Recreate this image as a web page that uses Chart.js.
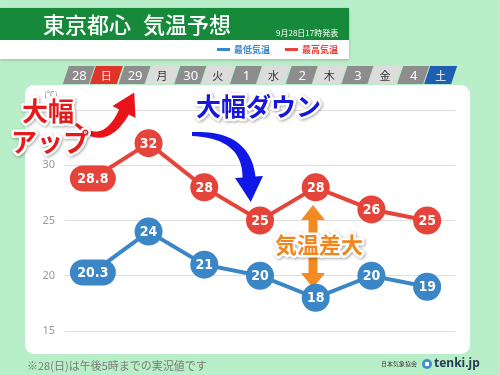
<!DOCTYPE html>
<html>
<head>
<meta charset="utf-8">
<script src="https://cdn.jsdelivr.net/npm/chart.js@4/dist/chart.umd.min.js"></script>
<style>
  html, body { margin: 0; padding: 0; background: #b8eec8; }
  canvas { display: block; }
</style>
</head>
<body>
<canvas id="tempChart" width="500" height="375"></canvas>
<script>
'use strict';

// 9月28日17時発表 東京都心
const dates = ['28', '29', '30', '1', '2', '3', '4'];
const weekdays = ['日', '月', '火', '水', '木', '金', '土'];
const highTemps = [28.8, 32, 28, 25, 28, 26, 25];
const lowTemps = [20.3, 24, 21, 20, 18, 20, 19];
const yTickValues = [15, 20, 25, 30, 35];

const RED = '#e4443a';
const BLUE = '#3a86c6';
const JP = '"Noto Sans CJK JP", sans-serif';
const NUM = '"DejaVu Sans Condensed", "Liberation Sans Narrow", sans-serif';

function roundRect(ctx, x, y, w, h, r) {
  ctx.beginPath();
  ctx.moveTo(x + r, y);
  ctx.arcTo(x + w, y, x + w, y + h, r);
  ctx.arcTo(x + w, y + h, x, y + h, r);
  ctx.arcTo(x, y + h, x, y, r);
  ctx.arcTo(x, y, x + w, y, r);
  ctx.closePath();
}

function outlinedText(ctx, text, x, y, font, color, outline) {
  ctx.save();
  ctx.font = font;
  ctx.textAlign = 'left';
  ctx.textBaseline = 'middle';
  ctx.lineJoin = 'round';
  ctx.shadowColor = 'rgba(0,0,0,0.35)';
  ctx.shadowBlur = 3;
  ctx.shadowOffsetX = 1;
  ctx.shadowOffsetY = 1;
  ctx.strokeStyle = '#fff';
  ctx.lineWidth = outline;
  ctx.strokeText(text, x, y);
  ctx.shadowColor = 'transparent';
  ctx.fillStyle = color;
  ctx.fillText(text, x, y);
  ctx.restore();
}

// curved, tapering arrow along a quadratic curve
function curvedArrow(ctx, p0, c, p1, w0, w1, headL, headW, color) {
  const left = [], right = [];
  const n = 24;
  for (let i = 0; i <= n; i++) {
    const t = i / n;
    const x = (1 - t) * (1 - t) * p0[0] + 2 * (1 - t) * t * c[0] + t * t * p1[0];
    const y = (1 - t) * (1 - t) * p0[1] + 2 * (1 - t) * t * c[1] + t * t * p1[1];
    let dx = 2 * (1 - t) * (c[0] - p0[0]) + 2 * t * (p1[0] - c[0]);
    let dy = 2 * (1 - t) * (c[1] - p0[1]) + 2 * t * (p1[1] - c[1]);
    const len = Math.hypot(dx, dy);
    dx /= len; dy /= len;
    const w = (w0 + (w1 - w0) * t) / 2;
    left.push([x - dy * w, y + dx * w]);
    right.push([x + dy * w, y - dx * w]);
  }
  let dx = p1[0] - c[0], dy = p1[1] - c[1];
  const len = Math.hypot(dx, dy);
  dx /= len; dy /= len;
  ctx.save();
  ctx.fillStyle = color;
  ctx.beginPath();
  ctx.moveTo(left[0][0], left[0][1]);
  left.forEach(p => ctx.lineTo(p[0], p[1]));
  ctx.lineTo(p1[0] - dy * headW / 2, p1[1] + dx * headW / 2);
  ctx.lineTo(p1[0] + dx * headL, p1[1] + dy * headL);
  ctx.lineTo(p1[0] + dy * headW / 2, p1[1] - dx * headW / 2);
  for (let i = right.length - 1; i >= 0; i--) ctx.lineTo(right[i][0], right[i][1]);
  ctx.closePath();
  ctx.fill();
  ctx.restore();
}

function doubleArrow(ctx, x, yTop, yBot, shaftW, headL, headW, color) {
  ctx.save();
  ctx.fillStyle = color;
  ctx.beginPath();
  ctx.moveTo(x, yTop);
  ctx.lineTo(x + headW / 2, yTop + headL);
  ctx.lineTo(x + shaftW / 2, yTop + headL);
  ctx.lineTo(x + shaftW / 2, yBot - headL);
  ctx.lineTo(x + headW / 2, yBot - headL);
  ctx.lineTo(x, yBot);
  ctx.lineTo(x - headW / 2, yBot - headL);
  ctx.lineTo(x - shaftW / 2, yBot - headL);
  ctx.lineTo(x - shaftW / 2, yTop + headL);
  ctx.lineTo(x - headW / 2, yTop + headL);
  ctx.closePath();
  ctx.fill();
  ctx.restore();
}

const backdrop = {
  id: 'backdrop',
  beforeDraw(chart) {
    const ctx = chart.ctx;
    const xs = chart.scales.x;
    ctx.save();
    ctx.fillStyle = '#b8eec8';
    ctx.fillRect(0, 0, chart.width, chart.height);

    // header
    ctx.shadowColor = 'rgba(0,0,0,0.2)';
    ctx.shadowBlur = 3;
    ctx.shadowOffsetY = 1;
    ctx.fillStyle = '#fff';
    ctx.fillRect(0, 8, 349, 51);
    ctx.shadowColor = 'transparent';
    ctx.fillStyle = '#17893a';
    ctx.fillRect(0, 8, 349, 32);
    ctx.fillStyle = '#fff';
    ctx.font = '500 22px ' + JP;
    ctx.textBaseline = 'middle';
    ctx.fillText('東京都心', 43, 25);
    ctx.fillText('気温予想', 143, 25);
    ctx.font = '8px ' + JP;
    ctx.fillText('9月28日17時発表', 276, 33);

    // legend
    ctx.font = 'bold 9px ' + JP;
    ctx.fillStyle = BLUE;
    ctx.fillRect(217, 48, 13, 3);
    ctx.fillText('最低気温', 234, 49.5);
    ctx.fillStyle = RED;
    ctx.fillRect(285, 48, 13, 3);
    ctx.fillText('最高気温', 302, 49.5);

    // white panel
    ctx.fillStyle = '#fff';
    roundRect(ctx, 25, 85, 445, 269, 9);
    ctx.fill();

    // date strip aligned to the category scale
    const top = 66, h = 18, sk = 3;
    dates.forEach((d, i) => {
      const cx = xs.getPixelForValue(i);
      const day = weekdays[i];
      let dayBg = '#dcdcdc', dayFg = '#333';
      if (day === '日') { dayBg = '#e0342a'; dayFg = '#fff'; }
      if (day === '土') { dayBg = '#1f5fb2'; dayFg = '#fff'; }
      ctx.fillStyle = '#8d8d8d';
      ctx.beginPath();
      ctx.moveTo(cx - 27 + sk, top);
      ctx.lineTo(cx + sk - 1, top);
      ctx.lineTo(cx - sk - 1, top + h);
      ctx.lineTo(cx - 27 - sk, top + h);
      ctx.closePath();
      ctx.fill();
      ctx.fillStyle = dayBg;
      ctx.beginPath();
      ctx.moveTo(cx + sk, top);
      ctx.lineTo(cx + 27 + sk, top);
      ctx.lineTo(cx + 27 - sk, top + h);
      ctx.lineTo(cx - sk, top + h);
      ctx.closePath();
      ctx.fill();
      ctx.textAlign = 'center';
      ctx.fillStyle = '#fff';
      ctx.font = '13px "Noto Sans", sans-serif';
      ctx.fillText(d, cx - 13.5, top + h / 2 + 1);
      ctx.fillStyle = dayFg;
      ctx.font = '11px ' + JP;
      ctx.fillText(day, cx + 13.5, top + h / 2 + 1);
    });

    // unit
    ctx.textAlign = 'center';
    ctx.fillStyle = '#888';
    ctx.font = '8px ' + JP;
    ctx.fillText('(℃)', 51, 94);

    // footer
    ctx.textAlign = 'left';
    ctx.fillStyle = '#7a7a7a';
    ctx.font = '11px ' + JP;
    ctx.fillText('※28(日)は午後5時までの実況値です', 27, 366);
    ctx.fillStyle = '#333';
    ctx.font = '6px ' + JP;
    ctx.fillText('日本気象協会', 381, 364);
    ctx.fillStyle = '#3d8fd1';
    ctx.beginPath();
    ctx.arc(427, 364, 5, 0, Math.PI * 2);
    ctx.fill();
    ctx.fillStyle = '#fff';
    ctx.fillRect(425, 362, 4, 4);
    ctx.fillStyle = '#2b3a55';
    ctx.font = 'bold 12px "Noto Sans", sans-serif';
    ctx.fillText('tenki.jp', 434, 364);
    ctx.restore();
  }
};

const markers = {
  id: 'markers',
  afterDatasetsDraw(chart) {
    const ctx = chart.ctx;

    // annotations
    curvedArrow(ctx, [76, 124], [104, 150], [124, 112], 3, 11, 22, 26, '#e8141a');
    curvedArrow(ctx, [192, 134], [246, 134], [249, 177], 4, 13, 25, 28, '#0f18e6');
    doubleArrow(ctx, 313, 205, 288, 9, 15, 24, '#f38a22');
    outlinedText(ctx, '大幅', 22, 111, 'bold 26px ' + JP, '#e41b1b', 5);
    outlinedText(ctx, 'アップ', 11, 142, 'bold 26px ' + JP, '#e41b1b', 5);
    outlinedText(ctx, '大幅ダウン', 196, 106, 'bold 25px ' + JP, '#1616dc', 5);
    outlinedText(ctx, '気温差大', 275, 245, 'bold 22px ' + JP, '#f0861f', 5);

    // value badges
    chart.data.datasets.forEach((ds, di) => {
      const meta = chart.getDatasetMeta(di);
      meta.data.forEach((pt, i) => {
        const v = ds.data[i];
        const txt = Number.isInteger(v) ? String(v) : v.toFixed(1);
        ctx.save();
        ctx.fillStyle = ds.borderColor;
        if (txt.length > 2) {
          roundRect(ctx, pt.x - 23, pt.y - 13, 46, 26, 13);
          ctx.fill();
        } else {
          ctx.beginPath();
          ctx.arc(pt.x, pt.y, 14, 0, Math.PI * 2);
          ctx.fill();
        }
        ctx.fillStyle = '#fff';
        ctx.textAlign = 'center';
        ctx.textBaseline = 'middle';
        ctx.font = 'bold 14px ' + NUM;
        ctx.fillText(txt, pt.x, pt.y + 1);
        ctx.restore();
      });
    });
  }
};

new Chart(document.getElementById('tempChart'), {
  type: 'line',
  data: {
    labels: dates,
    datasets: [
      { label: '最高気温', data: highTemps, borderColor: RED, borderWidth: 4, pointRadius: 0, tension: 0 },
      { label: '最低気温', data: lowTemps, borderColor: BLUE, borderWidth: 4, pointRadius: 0, tension: 0 }
    ]
  },
  options: {
    responsive: false,
    animation: false,
    devicePixelRatio: 1,
    layout: { padding: { left: 25, right: 45, top: 110, bottom: 44 } },
    plugins: { legend: { display: false }, tooltip: { enabled: false } },
    scales: {
      x: { display: false, offset: true },
      y: {
        min: 15,
        max: 35,
        afterFit(scale) { scale.width = 40; },
        afterBuildTicks(scale) { scale.ticks = yTickValues.map(v => ({ value: v })); },
        border: { display: false },
        grid: { color: '#dedede', lineWidth: 1, drawTicks: false },
        ticks: {
          color: '#999',
          padding: 10,
          font: { size: 11, family: '"Noto Sans", sans-serif' },
          callback: v => (v === 35 ? '' : v)
        }
      }
    }
  },
  plugins: [backdrop, markers]
});
</script>
</body>
</html>
